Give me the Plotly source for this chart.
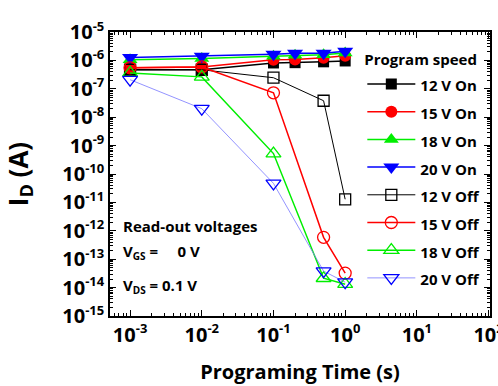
import plotly.graph_objects as go

x_on = [0.001, 0.01, 0.1, 0.2, 0.5, 1.0]
x_off = [0.001, 0.01, 0.1, 0.5, 1.0]

on_12 = [10**-6.33, 10**-6.33, 10**-6.09, 10**-6.08, 10**-6.05, 10**-6.02]
on_15 = [10**-6.26, 10**-6.23, 10**-5.98, 10**-5.97, 10**-5.91, 10**-5.84]
on_18 = [10**-5.98, 10**-5.93, 10**-5.85, 10**-5.82, 10**-5.8, 10**-5.74]
on_20 = [10**-5.9, 10**-5.85, 10**-5.78, 10**-5.75, 10**-5.75, 10**-5.68]

off_12 = [10**-6.33, 10**-6.33, 10**-6.61, 10**-7.42, 10**-10.89]
off_15 = [10**-6.26, 10**-6.23, 10**-7.14, 10**-12.23, 10**-13.49]
off_18 = [10**-6.44, 10**-6.58, 10**-9.28, 10**-13.67, 10**-13.88]
off_20 = [10**-6.68, 10**-7.70, 10**-10.33, 10**-13.42, 10**-13.81]

x_exps = [-3, -2, -1, 0, 1, 2]
y_exps = [-15, -14, -13, -12, -11, -10, -9, -8, -7, -6, -5]

FONT = "Open Sans"
LEG_ITEM = "<span style='font-size:15px'>%s</span>"
TICK = "10<sup><span style='font-size:13px'>%d</span></sup>"

fig = go.Figure()

def add(name, x, y, color, symbol, width, lcolor=None, size=12):
    is_open = symbol.endswith("open")
    fig.add_trace(go.Scatter(
        x=x, y=y, name=LEG_ITEM % name, mode="lines+markers",
        line=dict(color=lcolor or color, width=width),
        marker=dict(symbol=symbol, size=size, color=color,
                    line=dict(color=color, width=1.3 if is_open else 0)),
    ))

add("12 V On", x_on, on_12, "black", "square", 1.5, size=11)
add("15 V On", x_on, on_15, "red", "circle", 1.5)
add("18 V On", x_on, on_18, "#00ee00", "triangle-up", 1.5, size=13)
add("20 V On", x_on, on_20, "blue", "triangle-down", 1.5, size=14)
add("12 V Off", x_off, off_12, "black", "square-open", 1, size=11)
add("15 V Off", x_off, off_15, "red", "circle-open", 1.5)
add("18 V Off", x_off, off_18, "#00ee00", "triangle-up-open", 1.5, size=13)
add("20 V Off", x_off, off_20, "blue", "triangle-down-open", 0.8, "#7777ff", size=13)

axis_common = dict(
    type="log", showgrid=False, zeroline=False, automargin=False,
    showline=True, linecolor="black", linewidth=1.5, mirror="ticks",
    ticks="inside", ticklen=6, tickwidth=1.2, tickcolor="black",
    ticklabeloverflow="allow",
    tickfont=dict(family=FONT, size=20, color="black", weight="bold"),
    minor=dict(ticks="inside", ticklen=3, tickwidth=1, tickcolor="black", dtick="D1", showgrid=False),
)

fig.update_xaxes(**axis_common, range=[-3.28, 2.02],
                 tickvals=[10.0**e for e in x_exps],
                 ticktext=[TICK % e for e in x_exps],
                 ticklabelstandoff=0,
                 title=dict(text="Programing Time (s)", font=dict(family=FONT, size=20, color="black", weight="bold"), standoff=18))
fig.update_yaxes(**axis_common, range=[-15, -5],
                 tickvals=[10.0**e for e in y_exps],
                 ticktext=[TICK % e for e in y_exps],
                 title=dict(text="I<sub>D</sub> (A)" + "\u00a0" * 5,
                            font=dict(family=FONT, size=26, color="black", weight="bold"), standoff=28))

ann_font = dict(family=FONT, size=15, color="black", weight="bold")
SUB = "<sub><span style='font-size:10px'>%s</span></sub>"
fig.add_annotation(x=0.03, y=0.316, xref="paper", yref="paper", text="Read-out voltages",
                   showarrow=False, xanchor="left", yanchor="middle", font=ann_font)
fig.add_annotation(x=0.03, y=0.225, xref="paper", yref="paper",
                   text="V" + SUB % "GS" + " =\u00a0\u00a0\u00a0\u00a0 0 V",
                   showarrow=False, xanchor="left", yanchor="middle", font=ann_font)
fig.add_annotation(x=0.03, y=0.105, xref="paper", yref="paper",
                   text="V" + SUB % "DS" + " = 0.1 V",
                   showarrow=False, xanchor="left", yanchor="middle", font=ann_font)

fig.update_layout(
    width=498, height=386,
    margin=dict(l=110, r=8, t=32, b=70),
    plot_bgcolor="white", paper_bgcolor="white",
    font=dict(family=FONT, color="black"),
    legend=dict(
        x=0.664, y=0.952, xanchor="left", yanchor="top",
        bgcolor="rgba(0,0,0,0)",
        itemwidth=48,
        title=dict(text="Program speed", font=dict(family=FONT, size=15, color="black", weight="bold")),
        font=dict(family=FONT, size=19, color="black", weight="bold"),
        tracegroupgap=0,
    ),
)

fig.write_html("out.html", config={"displayModeBar": False},
               post_script="document.body.style.margin='0';")
